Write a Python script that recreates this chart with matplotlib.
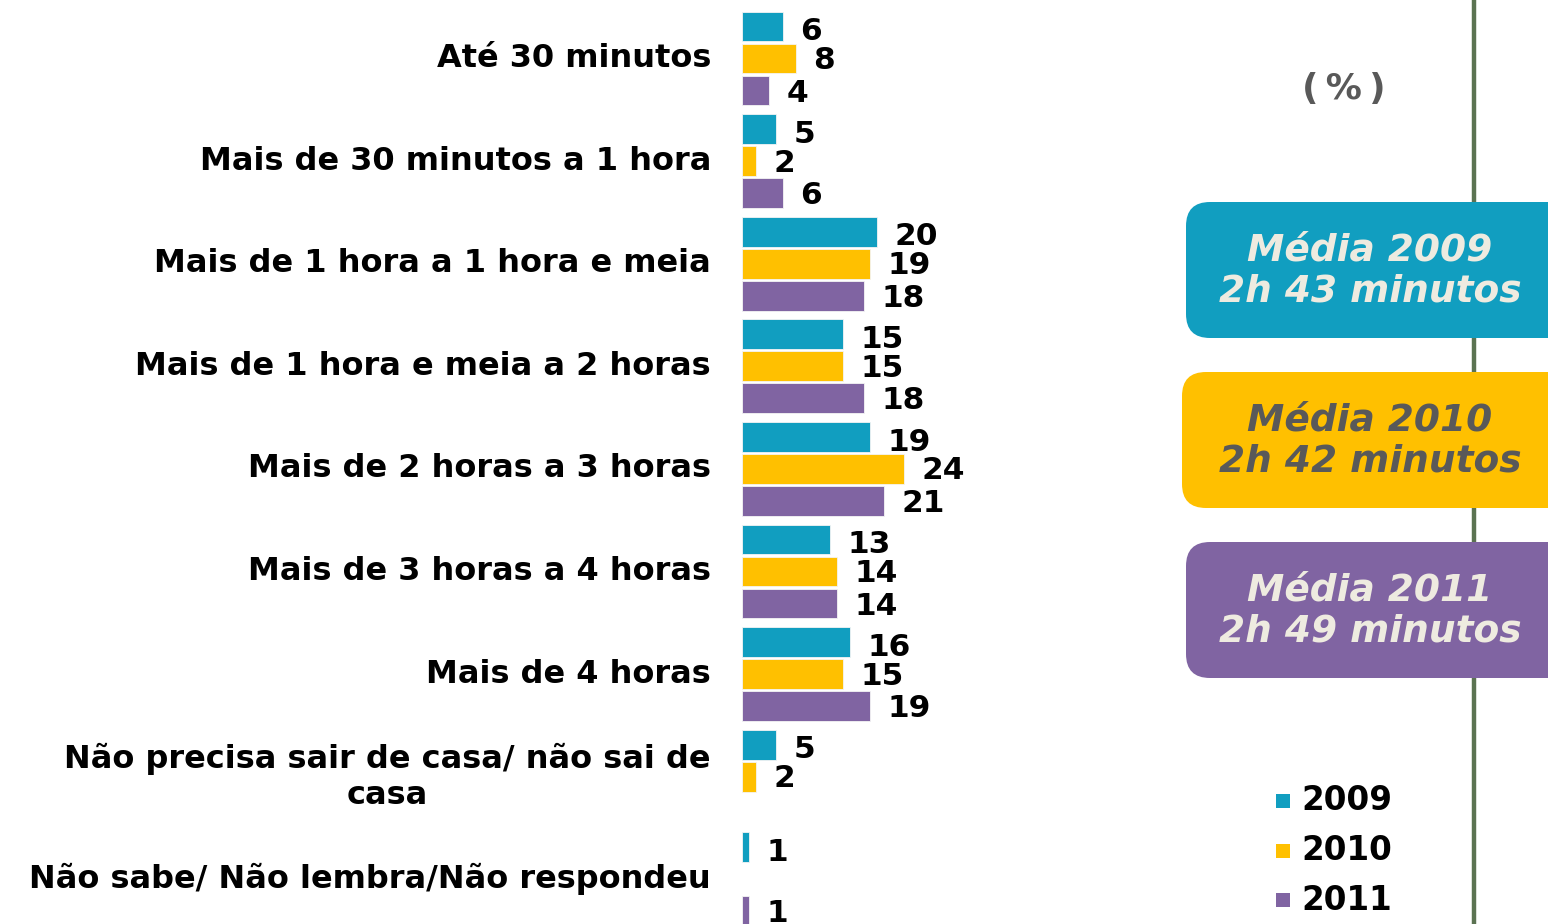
import numpy as np
import matplotlib
matplotlib.use("Agg")
import matplotlib.pyplot as plt
from matplotlib.patches import FancyBboxPatch

# -----------------------------------------------------
#   DATA
# -----------------------------------------------------
categories = [
    "Até 30 minutos",
    "Mais de 30 minutos a 1 hora",
    "Mais de 1 hora a 1 hora e meia",
    "Mais de 1 hora e meia a 2 horas",
    "Mais de 2 horas a 3 horas",
    "Mais de 3 horas a 4 horas",
    "Mais de 4 horas",
    "Não precisa sair de casa/ não sai de\ncasa",
    "Não sabe/ Não lembra/Não respondeu",
]
years = ["2009", "2010", "2011"]
v2009 = [6, 5, 20, 15, 19, 13, 16, 5, 1]
v2010 = [8, 2, 19, 15, 24, 14, 15, 2, np.nan]
v2011 = [4, 6, 18, 18, 21, 14, 19, np.nan, 1]
averages = ["Média 2009\n2h 43 minutos", "Média 2010\n2h 42 minutos", "Média 2011\n2h 49 minutos"]

colors = ["#119EC0", "#FFC000", "#8064A2"]
avg_text_colors = ["#EEEBE0", "#595959", "#EEEBE0"]

# -----------------------------------------------------
#   FIGURE
# -----------------------------------------------------
W, H = 1548, 924
fig = plt.figure(figsize=(W / 100, H / 100), dpi=100)

# overlay in pixel coordinates for the right-hand decorations
ov = fig.add_axes([0, 0, 1, 1])
ov.set_xlim(0, W)
ov.set_ylim(H, 0)
ov.axis("off")

x0 = 742          # pixel position of zero
px_per_unit = 6.75
pitch = 102.6     # pixels between groups
y_first = 58.5    # pixel centre of first group

ax = fig.add_axes([x0 / W, 0, 1 - x0 / W, 1])
ax.set_xlim(0, (W - x0) / px_per_unit)
ax.set_ylim((H - y_first) / pitch, -y_first / pitch)
ax.axis("off")

bar_h = 0.29
offsets = [-0.312, 0.0, 0.312]
label_dy = [0.05, 0.02, 0.025]
series = [v2009, v2010, v2011]
ypos = np.arange(len(categories))

for vals, off, col, dy in zip(series, offsets, colors, label_dy):
    vals = np.array(vals, dtype=float)
    ax.barh(ypos + off, vals, height=bar_h, color=col, edgecolor="#f4f4f4",
            linewidth=0.6, left=0)
    for y, v in zip(ypos, vals):
        if np.isnan(v):
            continue
        ax.text(v + 2.6, y + off + dy, f"{int(v)}", ha="left", va="center",
                fontsize=22.5, fontweight="bold", color="black")

for y, cat in zip(ypos, categories):
    ax.text(-31 / px_per_unit, y, cat, ha="right", va="center",
            multialignment="center", fontsize=23, fontweight="bold",
            color="black", linespacing=1.2, clip_on=False)

# vertical divider (behind the boxes)
ov.plot([1474, 1474], [0, H], color="#5B7352", linewidth=3.2, zorder=1)

# (%)
ov.text(1344, 89, "(\u2009%\u2009)", ha="center", va="center", fontsize=26,
        fontweight="bold", color="#595959")

# average boxes
box_specs = [(1186, 202), (1182, 372), (1186, 542)]
for (bx, by), txt, col, tcol in zip(box_specs, averages, colors, avg_text_colors):
    patch = FancyBboxPatch((bx, by), 420, 136,
                           boxstyle="round,pad=0,rounding_size=24",
                           facecolor=col, edgecolor="none", zorder=2)
    ov.add_patch(patch)
    ov.text(1370, by + 69, txt, ha="center", va="center", fontsize=27,
            fontweight="bold", style="italic", color=tcol, linespacing=1.15,
            zorder=3)

# legend
for i, (yr, col) in enumerate(zip(years, colors)):
    ly = 801 + i * 49.5
    ov.add_patch(plt.Rectangle((1276, ly - 7), 14, 14, facecolor=col,
                               edgecolor="none"))
    ov.text(1301, ly, yr, ha="left", va="center", fontsize=23.5,
            fontweight="bold", color="black")

fig.savefig("out.png", dpi=100)
